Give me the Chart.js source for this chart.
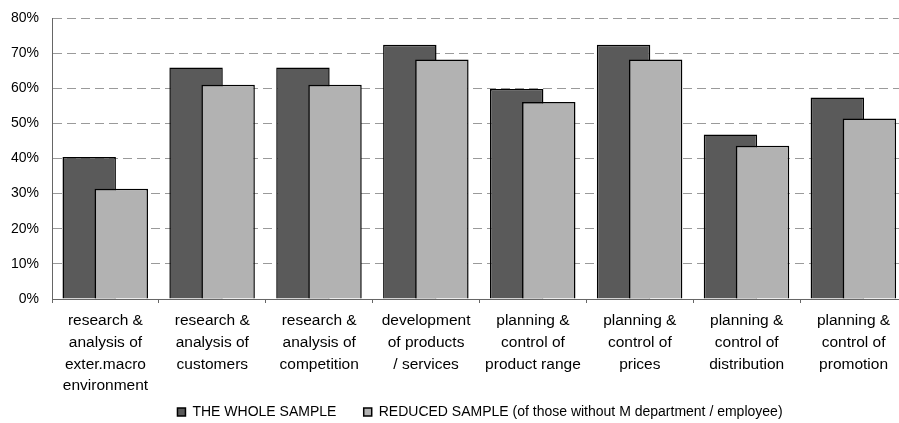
<!DOCTYPE html>
<html>
<head>
<meta charset="utf-8">
<script src="https://cdn.jsdelivr.net/npm/chart.js@4"></script>
<style>
  html, body { margin: 0; padding: 0; overflow: hidden; background: #fff; }
  #wrap { position: relative; width: 960px; height: 429px; }
</style>
</head>
<body>
<div id="wrap"><canvas id="barChart"></canvas></div>
<script>
// categories (multi-line tick labels)
const categories = [
    ['research &', 'analysis of', 'exter.macro', 'environment'],
    ['research &', 'analysis of', 'customers'],
    ['research &', 'analysis of', 'competition'],
    ['development', 'of products', '/ services'],
    ['planning &', 'control of', 'product range'],
    ['planning &', 'control of', 'prices'],
    ['planning &', 'control of', 'distribution'],
    ['planning &', 'control of', 'promotion']
];

// series values, in %
const wholeSample = [40.4, 65.9, 65.9, 72.4, 59.8, 72.4, 46.8, 57.4];
const reducedSample = [31.4, 61.0, 61.0, 68.2, 56.1, 68.2, 43.6, 51.4];

const seriesNames = [
    'THE WHOLE SAMPLE      ',
    'REDUCED SAMPLE (of those without M department / employee)'
];

// y axis ticks
const yTicks = [0, 10, 20, 30, 40, 50, 60, 70, 80];

// how far each series is pushed from the category centre (share of category width)
const barShift = [-0.152, 0.148];

Chart.defaults.font.family = "'Liberation Sans', Arial, sans-serif";
Chart.defaults.font.size = 14;
Chart.defaults.color = '#000';

// Excel style overlapping bars: light bar drawn over the dark one
const overlapBars = {
    id: 'overlapBars',
    afterDatasetsUpdate(chart) {
        const xs = chart.scales.x;
        const step = xs.width / categories.length;
        chart.data.datasets.forEach((ds, i) => {
            chart.getDatasetMeta(i).data.forEach(bar => {
                bar.x += barShift[i] * step;
            });
        });
    }
};

const ctx = document.getElementById('barChart').getContext('2d');

const myBarChart = new Chart(ctx, {
    type: 'bar',
    data: {
        labels: categories,
        datasets: [{
            label: seriesNames[0],
            data: wholeSample,
            backgroundColor: '#5a5a5a',
            borderColor: '#000',
            borderWidth: 1.5,
            grouped: false,
            order: 1
        }, {
            label: seriesNames[1],
            data: reducedSample,
            backgroundColor: '#b2b2b2',
            borderColor: '#000',
            borderWidth: 1.5,
            grouped: false,
            order: 0
        }]
    },
    options: {
        responsive: true,
        maintainAspectRatio: false,
        animation: false,
        layout: {
            padding: { top: 18, right: 0, left: 0, bottom: 0 }
        },
        datasets: {
            bar: { barPercentage: 0.5, categoryPercentage: 1.0 }
        },
        scales: {
            x: {
                grid: {
                    drawOnChartArea: false,
                    tickLength: 4,
                    color: '#666'
                },
                border: { color: '#666', width: 1 },
                ticks: { padding: 7, font: { size: 15.5, lineHeight: 1.4 }, maxRotation: 0, autoSkip: false },
                afterFit(scale) { scale.height = 102; }
            },
            y: {
                min: 0,
                max: 80,
                afterBuildTicks(scale) { scale.ticks = yTicks.map(v => ({ value: v })); },
                ticks: { padding: 13, callback: v => v + '%' },
                grid: { color: '#9a9a9a', drawTicks: false },
                border: { color: '#666', width: 1, dash: [9, 5] },
                afterFit(scale) {
                    scale.width = 52;
                    scale.paddingTop = 0;
                    scale.paddingBottom = 0;
                }
            },
            // empty right margin, the plot runs past the picture edge
            yRight: {
                position: 'right',
                min: 0,
                max: 80,
                ticks: { display: false },
                grid: { display: false },
                border: { display: false },
                afterFit(scale) {
                    scale.width = 53;
                    scale.paddingTop = 0;
                    scale.paddingBottom = 0;
                }
            }
        },
        plugins: {
            legend: {
                position: 'bottom',
                labels: {
                    boxWidth: 8,
                    boxHeight: 8,
                    padding: 4,
                    font: { size: 14 },
                    sort: (a, b) => a.datasetIndex - b.datasetIndex
                }
            },
            tooltip: { enabled: false }
        }
    },
    plugins: [overlapBars]
});
</script>
</body>
</html>
